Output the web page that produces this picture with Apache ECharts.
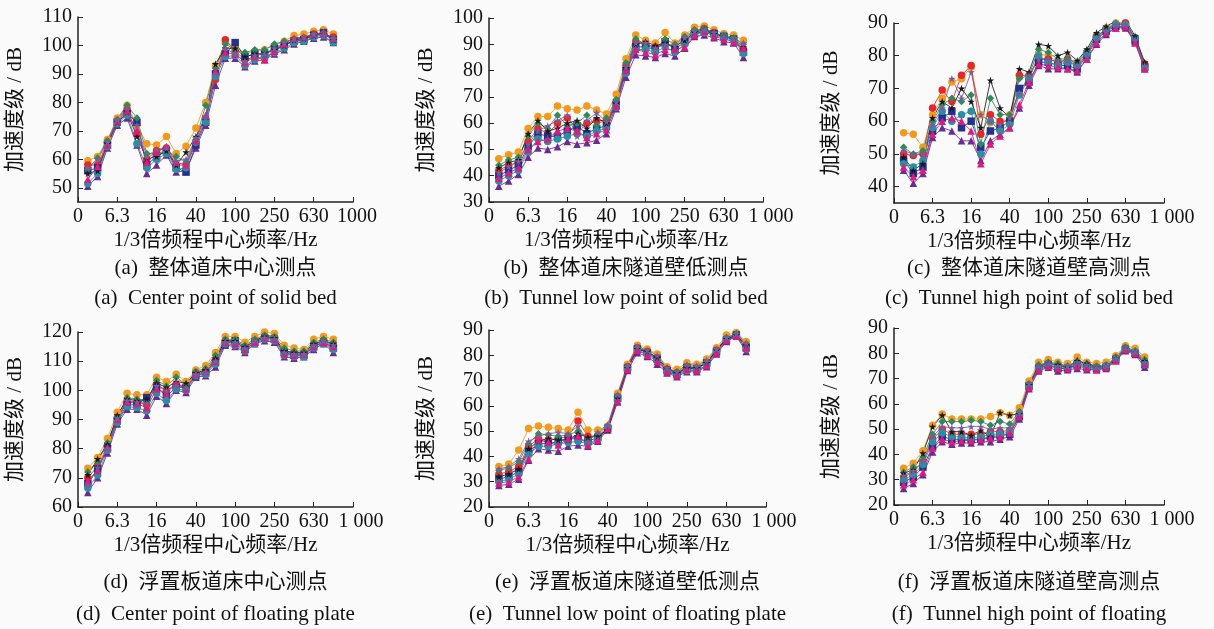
<!doctype html>
<html lang="zh">
<head>
    <meta charset="UTF-8">
    <title>加速度级</title>
    <script src="https://cdn.jsdelivr.net/npm/echarts@6/dist/echarts.min.js"></script>
    <style>
        html, body { margin: 0; padding: 0; background: #fafafa; }
        #main { width: 1214px; height: 629px; }
    </style>
</head>
<body>
<div id="main"></div>
<script>
    // x 轴刻度 (1/3 倍频程, 每 4 个频带一个标签)
    var tickLabelsA = ['0', '6.3', '16', '40', '100', '250', '630', '1000'];
    var tickLabels = ['0', '6.3', '16', '40', '100', '250', '630', '1 000'];

    // (a) 整体道床中心测点
    var solidCenter = [
        [59.5, 61, 67, 74.5, 79, 72, 65.5, 65, 68, 62, 64.6, 71, 80, 93, 101, 100, 97, 98, 98.5, 100, 101.5, 103.5, 104, 105, 105.5, 104],
        [50.5, 54, 64, 72, 74.5, 65, 55, 58, 61.5, 55.5, 56, 64, 72, 86, 95.5, 95.5, 92.5, 94.5, 95, 97, 98.5, 100.5, 101.5, 102.5, 103, 101],
        [58, 58, 66, 73.5, 77.5, 69, 60, 63, 64, 58, 58, 66, 74, 88, 102, 98, 95, 96, 95.5, 98, 100, 102, 102.5, 104, 104, 103],
        [56, 57, 65, 73, 76, 73, 58, 61, 63, 57, 55.5, 65, 73, 90, 97, 101, 96, 97, 97, 99, 100, 101.5, 102, 103.5, 104.5, 102],
        [56.5, 60.5, 66.5, 74, 79, 74.5, 62, 62, 63, 61, 59, 67, 79, 92, 100.5, 98.5, 97.5, 98.5, 98.5, 100.5, 101.5, 102, 102.5, 104, 104.5, 102.5],
        [51.5, 55, 64.5, 72.5, 75.5, 65.5, 57, 60, 62, 56.5, 57, 66, 73, 89, 96, 96.5, 93, 95, 96, 97.5, 99, 101, 101.5, 103, 103.5, 101],
        [55, 56, 65.5, 73, 76.5, 68, 60, 61, 63, 58, 62.5, 68, 75, 93.5, 99, 99, 96, 97, 97, 98.5, 100, 102, 102.5, 103.5, 104, 102],
        [53, 57.5, 65, 73.5, 77, 70, 59, 62.5, 64.5, 59, 58, 66.5, 75.5, 91, 97.5, 97, 94, 96, 95, 98, 100.5, 102.5, 103, 104, 104.5, 102.5],
        [57, 60, 66, 74, 78, 72, 61, 63.5, 64, 59.5, 60, 67.5, 75, 90, 99, 97, 94.5, 96.5, 97, 99, 101, 102.5, 103, 104, 103.5, 102.5]
    ];
    // (b) 整体道床隧道壁低测点
    var solidLow = [
        [46.5, 48, 49, 58, 62.5, 62.5, 66.5, 65.5, 65, 66.5, 65, 63.5, 71, 84.5, 93.5, 91.5, 90.5, 94.5, 90.5, 93.5, 96.5, 97, 95.5, 94, 93.5, 91.5],
        [36, 38, 40.5, 47, 50.5, 50, 51, 53, 52, 52.5, 53.5, 56, 65.5, 77.5, 86, 85.5, 85, 86.5, 85.5, 88.5, 93, 93.5, 92.5, 91, 90.5, 85],
        [42, 44, 45, 53, 58, 56, 60, 62, 58, 60, 61, 61, 68, 82, 91, 90, 89, 90, 89, 92, 95, 96, 94.5, 93, 92, 88],
        [40, 42, 44, 51, 56, 55, 55, 57, 59, 56, 58, 59, 67, 80, 89, 89, 88, 91, 88, 91, 94, 95, 94, 93, 92, 87],
        [44, 46, 47, 55, 60, 58, 63, 59, 60, 63, 59, 62, 69, 83, 92, 90, 88, 92, 90, 93, 95.5, 96, 94, 93.5, 92.5, 90],
        [38, 40, 42, 49, 54, 53, 54, 55, 56, 55, 57, 58, 66, 79, 88, 88, 87, 89, 87, 90, 94, 94.5, 93.5, 92.5, 91.5, 86.5],
        [43, 45, 46, 56, 61, 57, 58, 60, 61, 58, 62, 60, 67.5, 81, 90, 91, 89.5, 90.5, 89, 91.5, 94.5, 95.5, 94, 93, 92, 89],
        [39, 41, 43, 50, 53, 54, 57, 58, 57, 54.5, 56, 57.5, 66.5, 80, 88, 87, 86, 88, 88, 89, 93.5, 95, 93, 92, 91, 88.5],
        [41, 43.5, 45.5, 52, 57, 59, 61, 63, 55, 61, 64, 60.5, 68, 81.5, 90.5, 90.5, 88.5, 90, 89.5, 92.5, 95, 95.5, 94.5, 93, 92, 90.5]
    ];
    // (c) 整体道床隧道壁高测点
    var solidHigh = [
        [56.5, 56, 52, 62, 67, 72, 73, 76.5, 62, 59.5, 58, 62, 68.5, 73, 80.5, 80, 78, 78, 77, 80, 85.5, 88.5, 90, 90, 85, 77],
        [45, 41, 44, 55, 58, 57, 54, 54, 48, 54, 56, 58, 64, 71, 77, 76, 76, 76, 75, 79, 83.5, 86.5, 88.5, 88.5, 84, 76],
        [50, 49.5, 50, 64, 69.5, 66, 74, 77, 56, 62, 60, 60, 74, 74, 79, 79, 78, 79, 77.5, 81, 86, 88, 89.5, 90, 85.5, 77.5],
        [48, 44, 46, 57, 61, 63, 58, 60, 52, 57, 58, 60, 70, 72, 78, 78, 77, 77, 76, 80, 85, 87.5, 89, 89, 84.5, 76.5],
        [52, 50, 51, 60, 65, 67, 66, 68, 53, 67, 62, 62, 73, 74, 82, 81, 79, 79, 78, 81.5, 86, 88, 90, 90.5, 85, 77],
        [47, 46, 48, 58, 63, 60, 62, 63, 50, 60, 57, 59, 68, 73, 80, 78, 77, 78, 77, 80.5, 85.5, 88, 89.5, 89.5, 85.5, 76],
        [49, 45, 47, 61, 66, 64, 70, 66, 58, 72.5, 64, 61, 76, 75, 83.5, 83, 80, 81, 78.5, 82, 87, 89, 90.5, 91, 86, 78],
        [46, 43, 45, 56, 60, 61, 60, 57, 47, 53, 55.5, 58, 65, 72, 77.5, 77, 76.5, 76, 75.5, 79, 84, 87, 88.5, 89, 84, 76],
        [51, 50, 50, 59, 64, 73, 67, 75, 62, 60, 59, 61, 68.5, 74, 79, 79, 78, 78.5, 77, 80, 85, 87.5, 89.5, 89.5, 85, 77]
    ];
    // (d) 浮置板道床中心测点
    var floatCenter = [
        [73.3, 77, 83.5, 92.5, 99, 98.5, 98.5, 104.5, 103, 105.5, 103, 107, 108.5, 113, 118.5, 118.5, 116.5, 118.5, 120, 119.5, 115.5, 114.5, 114, 117.5, 118.5, 117.5],
        [65, 70, 78.5, 88.5, 93.5, 93.5, 91.5, 98, 95.5, 100, 99.3, 104.5, 105, 108, 115.5, 115, 113, 116, 117, 116.5, 111.5, 111, 111.5, 114, 116, 113],
        [70, 74, 81, 90.5, 96, 96, 95, 102, 100, 102, 101.5, 106, 106.5, 110.5, 117, 116.5, 114.5, 117, 118.5, 118, 113.5, 112.5, 112.5, 115.5, 117, 115.5],
        [68, 73, 80, 89.5, 95, 95, 97.5, 101, 98, 101, 101, 105, 106, 109.5, 116, 117, 114, 116.5, 118, 117.5, 113, 112, 112, 115, 116.5, 114.5],
        [72, 75.5, 82, 91, 97.5, 97, 96, 103.5, 101.5, 104.5, 102, 106.5, 107.5, 112, 117.5, 117.5, 115.5, 117.5, 119, 118.5, 114.5, 113.5, 113.5, 116.5, 117.5, 116.5],
        [66.5, 71, 79.5, 89, 94.5, 94, 93, 99, 96.5, 100.5, 100, 105, 105.5, 109, 116, 115.5, 113.5, 116, 117.5, 117, 112, 111.5, 111.5, 114.5, 116, 114],
        [71, 76.5, 81.5, 91.5, 97, 96.5, 97, 102.5, 101, 103, 102.5, 106, 107, 111, 117, 117, 115, 117, 118.5, 118, 113.5, 113, 113, 116, 117, 116],
        [69, 72.5, 80.5, 90, 96, 95.5, 94, 100.5, 99, 102.5, 100.5, 105.5, 106.5, 110, 116.5, 116, 114, 116.5, 118, 117.5, 112.5, 112, 112.5, 115, 116.5, 115],
        [67.5, 73.5, 80, 90.5, 96.5, 96, 95.5, 101.5, 100, 101.5, 101, 105.5, 106, 110, 116.5, 116.5, 114.5, 117, 118, 117.5, 113, 112.5, 112.5, 115.5, 117, 115.5]
    ];
    // (e) 浮置板道床隧道壁低测点
    var floatLow = [
        [36, 37, 42.5, 51, 52, 51.5, 51, 50.5, 57.5, 50.5, 50.5, 52, 65, 76.5, 84, 82.5, 80.5, 75.5, 74.5, 77, 76.5, 78.5, 83, 88, 89, 85.5],
        [28.5, 29, 31, 38.5, 43, 42.5, 42, 44, 44.5, 44, 46, 50.5, 61.5, 74, 81, 79.5, 76.5, 73, 71.5, 73.5, 73.5, 75.5, 80.5, 85.5, 87.5, 81.5],
        [33, 34, 36, 44, 47, 46.5, 47, 48, 54, 48, 48, 51.5, 63.5, 75.5, 83, 81.5, 79, 74.5, 73, 75.5, 75, 77, 82, 86.5, 88, 84],
        [31, 32, 34, 42, 45, 45, 46, 47, 47, 46, 47.5, 51, 63, 75, 82.5, 81, 78.5, 74, 72.5, 75, 74.5, 77, 81.5, 86, 88, 83],
        [34.5, 35.5, 38, 45, 49, 48.5, 48, 48.5, 50, 47, 49, 52, 64, 75.5, 83, 81, 78.5, 74, 73.5, 76, 75.5, 77.5, 82, 87, 88.5, 84.5],
        [30, 31, 33, 41, 44, 44, 45, 45.5, 46, 45, 47, 51.5, 62.5, 74.5, 82, 80.5, 78, 73.5, 72, 74, 74, 76, 81.5, 86, 87.5, 82.5],
        [32, 33, 35, 43, 46, 47, 46.5, 46.5, 49, 47.5, 48, 50.5, 63, 75, 82.5, 81.5, 79, 75, 73, 75, 75, 77, 82, 86.5, 88, 84],
        [29.5, 30, 32, 39, 46.5, 45.5, 44.5, 47, 48, 44.5, 46.5, 51, 62, 74.5, 82, 80, 77.5, 73.5, 72, 74.5, 74, 76, 81, 86, 87.5, 83],
        [35, 36, 39, 46, 48, 49, 49.5, 49, 52, 46, 49.5, 52.5, 64.5, 76, 83.5, 82, 80, 75, 73.5, 76.5, 76, 78, 82.5, 87, 88.5, 85]
    ];
    // (f) 浮置板道床隧道壁高测点
    var floatHigh = [
        [34.5, 36.5, 41.5, 51.5, 56, 54, 54, 54, 54, 55, 56.5, 55.5, 58.5, 69, 76.5, 77.5, 76.5, 76, 78.5, 76.5, 76, 76.5, 79, 83, 82, 78.5],
        [26.5, 28.5, 32, 41, 45, 44, 44.5, 44.5, 45, 45, 46, 47, 54, 66, 73, 74.5, 73, 73.5, 74, 73.5, 73.5, 74, 77, 81, 79.5, 74.5],
        [31, 33, 37, 46, 50, 48, 48, 48, 48, 49, 49, 49.5, 56, 67.5, 74.5, 76, 75, 74.5, 76, 75, 74.5, 75, 78, 82, 80.5, 76],
        [29, 31, 35, 43, 47, 46, 46, 46, 46, 47, 47.5, 48, 55, 67, 74, 75.5, 74, 74, 75.5, 74.5, 74, 74.5, 77.5, 81.5, 80, 75.5],
        [33, 35, 39, 48, 53, 53, 53, 53.5, 53, 51.5, 53, 52, 57, 68, 75.5, 76.5, 76, 75, 77, 76, 75, 75.5, 78.5, 82.5, 81, 77.5],
        [30, 32, 36, 45, 48.5, 47, 47, 46.5, 47, 48, 48, 49, 55.5, 67, 74, 75.5, 74.5, 74.5, 75.5, 74.5, 74, 75, 77.5, 81.5, 80.5, 75.5],
        [32.5, 34, 40.5, 51, 55.5, 49, 49, 47.5, 49.5, 47, 56.5, 55.5, 56, 67.5, 75, 76, 75.5, 74.5, 77, 76, 74.5, 75, 78, 82, 80.5, 77],
        [28, 30, 33, 42.5, 46, 45, 45.5, 45.5, 46, 46.5, 47, 48.5, 55, 66.5, 73.5, 75, 74, 74, 75, 74, 73.5, 74.5, 77, 81.5, 80, 76],
        [31.5, 33.5, 37.5, 47, 51, 50.5, 50.5, 51, 51, 50, 50.5, 50.5, 56.5, 68, 75, 76, 75, 75, 76.5, 75.5, 74.5, 75, 78, 82, 80.5, 76.5]
    ];

    var colors = ['#f39a1e', '#6a2c91', '#e8262a', '#23318f', '#2f8a5a', '#2a8fa3', '#1a1a1a', '#e0197d', '#7c5a9e'];
    var star = 'path://M50,0 L61,35 L98,35 L68,57 L79,91 L50,70 L21,91 L32,57 L2,35 L39,35 Z';
    var symbols = ['circle', 'triangle', 'circle', 'rect', 'diamond', 'circle', star, 'triangle', star];

    var font = '"Liberation Serif", "Noto Sans CJK SC", serif';
    var fs = 20, fsName = 21;
    var panels = [
        {data: solidCenter, left: 78, top: 17, width: 275, height: 185, min: 45, max: 110, ticks: [50, 60, 70, 80, 90, 100, 110], xl: tickLabelsA, shift: 8,
            cn: '(a)  整体道床中心测点', en: '(a)  Center point of solid bed', cy: 268, ey: 298},
        {data: solidLow, left: 489, top: 18, width: 274, height: 184, min: 30, max: 100, ticks: [30, 40, 50, 60, 70, 80, 90, 100], xl: tickLabels, shift: 16,
            cn: '(b)  整体道床隧道壁低测点', en: '(b)  Tunnel low point of solid bed', cy: 268, ey: 298},
        {data: solidHigh, left: 894, top: 23, width: 270, height: 180, min: 35, max: 90, ticks: [40, 50, 60, 70, 80, 90], xl: tickLabels, shift: 16,
            cn: '(c)  整体道床隧道壁高测点', en: '(c)  Tunnel high point of solid bed', cy: 268, ey: 298},
        {data: floatCenter, left: 78, top: 332, width: 275, height: 175, min: 60, max: 120, ticks: [60, 70, 80, 90, 100, 110, 120], xl: tickLabels, shift: 16,
            cn: '(d)  浮置板道床中心测点', en: '(d)  Center point of floating plate', cy: 582, ey: 614},
        {data: floatLow, left: 489, top: 330, width: 277, height: 177, min: 20, max: 90, ticks: [20, 30, 40, 50, 60, 70, 80, 90], xl: tickLabels, shift: 16,
            cn: '(e)  浮置板道床隧道壁低测点', en: '(e)  Tunnel low point of floating plate', cy: 582, ey: 614},
        {data: floatHigh, left: 894, top: 328, width: 270, height: 177, min: 20, max: 90, ticks: [20, 30, 40, 50, 60, 70, 80, 90], xl: tickLabels, shift: 16,
            cn: '(f)  浮置板道床隧道壁高测点', en: '(f)  Tunnel high point of floating', cy: 582, ey: 614}
    ];

    var grids = [], xAxes = [], yAxes = [], series = [], graphics = [];
    panels.forEach(function (p, k) {
        grids.push({left: p.left, top: p.top, width: p.width, height: p.height});
        xAxes.push({
            type: 'value', gridIndex: k, min: 0, max: 28, interval: 4,
            name: '1/3倍频程中心频率/Hz', nameLocation: 'middle', nameGap: 28,
            nameTextStyle: {fontFamily: font, fontSize: fsName, color: '#111'},
            axisLine: {lineStyle: {color: '#222', width: 1.5}},
            axisTick: {inside: true, length: 5, lineStyle: {color: '#222'}},
            axisLabel: {fontFamily: font, fontSize: fs, color: '#111', margin: 5,
                formatter: (function (xl) {
                    return function (v) { return v === 28 ? '{last|' + xl[7] + '}' : xl[v / 4]; };
                })(p.xl),
                rich: {last: {fontFamily: font, fontSize: fs, color: '#111', padding: [0, 0, 0, p.shift]}}},
            splitLine: {show: false}
        });
        yAxes.push({
            type: 'value', gridIndex: k, min: p.min, max: p.max,
            name: '加速度级 / dB', nameLocation: 'middle', nameRotate: 90, nameGap: 52,
            nameTextStyle: {fontFamily: font, fontSize: fsName, color: '#111'},
            axisLine: {show: true, lineStyle: {color: '#222', width: 1.5}},
            axisTick: {show: true, inside: true, length: 5, customValues: p.ticks, lineStyle: {color: '#222'}},
            axisLabel: {fontFamily: font, fontSize: fs, color: '#111', margin: 6, customValues: p.ticks},
            splitLine: {show: false}
        });
        p.data.forEach(function (arr, j) {
            series.push({
                type: 'line', xAxisIndex: k, yAxisIndex: k,
                data: arr.map(function (v, i) { return [i + 1, v]; }),
                symbol: symbols[j], symbolSize: 7.5,
                lineStyle: {width: 1, color: colors[j], opacity: 0.85},
                itemStyle: {color: colors[j]},
                silent: true, animation: false
            });
        });
        var cx = p.left + p.width / 2;
        graphics.push({type: 'text', x: cx, y: p.cy, style: {text: p.cn, textAlign: 'center', textVerticalAlign: 'middle',
            font: fsName + 'px ' + font, fill: '#111'}});
        graphics.push({type: 'text', x: cx, y: p.ey, style: {text: p.en, textAlign: 'center', textVerticalAlign: 'middle',
            font: fsName + 'px ' + font, fill: '#111'}});
    });

    var chart = echarts.init(document.getElementById('main'));
    chart.setOption({
        backgroundColor: '#fafafa',
        grid: grids,
        xAxis: xAxes,
        yAxis: yAxes,
        series: series,
        graphic: graphics
    });
</script>
</body>
</html>
